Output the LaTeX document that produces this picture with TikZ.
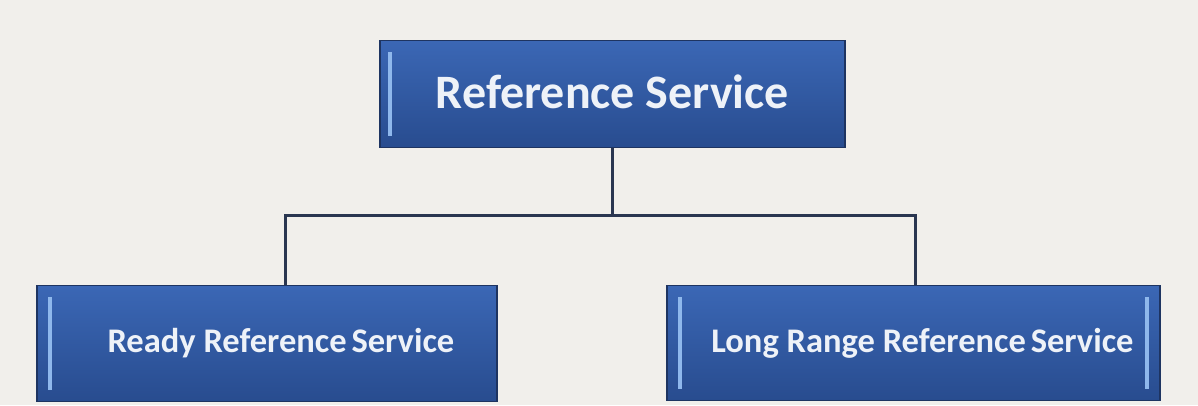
\documentclass[tikz,border=0pt]{standalone}
\usepackage{fontspec}
\setmainfont{Carlito}
\usetikzlibrary{positioning}
\definecolor{pagegray}{HTML}{F1EFEB}
\definecolor{boxtop}{HTML}{3B67B5}
\definecolor{boxbot}{HTML}{284C8F}
\definecolor{boxedge}{HTML}{1E3461}
\definecolor{edgelight}{HTML}{8FB8EC}
\definecolor{linkgray}{HTML}{2A3650}
\definecolor{textwhite}{HTML}{EEF2F8}
\begin{document}
\begin{tikzpicture}[x=1pt, y=-1pt]
    \fill[pagegray] (0, 0) rectangle (1198, 405);
    \useasboundingbox (0, 0) rectangle (1198, 405);
    \begin{scope}[all/.style={draw=boxedge, line width=1.5pt, top color=boxtop, bottom color=boxbot, text=textwhite, font=\bfseries, inner sep=0pt},
                  link/.style={draw=linkgray, line width=3pt}]
        \node[all, minimum width=465, minimum height=107, font=\bfseries\fontsize{48}{52}\selectfont] (rs) at (612.5, 94) {\raisebox{5pt}{Reference Service}};
        \node[all, minimum width=460, minimum height=116, font=\bfseries\fontsize{34.5}{38}\selectfont] (rrs) at (267, 343.5) {\hspace*{28pt}Ready Reference\hspace{-3pt} Service};
        \node[all, minimum width=493, minimum height=115, font=\bfseries\fontsize{34.5}{38}\selectfont] (lrrs) at (913.5, 343) {\hspace*{18pt}Long Range Reference\hspace{-3pt} Service};
        % bevel highlights
        \fill[edgelight] ([xshift=9, yshift=-12]rs.north west) rectangle ([xshift=13, yshift=12]rs.south west);
        \fill[edgelight] ([xshift=12, yshift=-12]rrs.north west) rectangle ([xshift=16, yshift=12]rrs.south west);
        \fill[edgelight] ([xshift=12, yshift=-12]lrrs.north west) rectangle ([xshift=16, yshift=12]lrrs.south west);
        \fill[edgelight] ([xshift=-12, yshift=-12]lrrs.north east) rectangle ([xshift=-16, yshift=12]lrrs.south east);
        % connectors
        \coordinate (bus) at (612.5, 215);
        \draw[link] (rs.south) -- (bus);
        \draw[link] (bus) -| ([xshift=18]rrs.north);
        \draw[link] (bus) -| ([xshift=1.5]lrrs.north);
    \end{scope}
\end{tikzpicture}
\end{document}
